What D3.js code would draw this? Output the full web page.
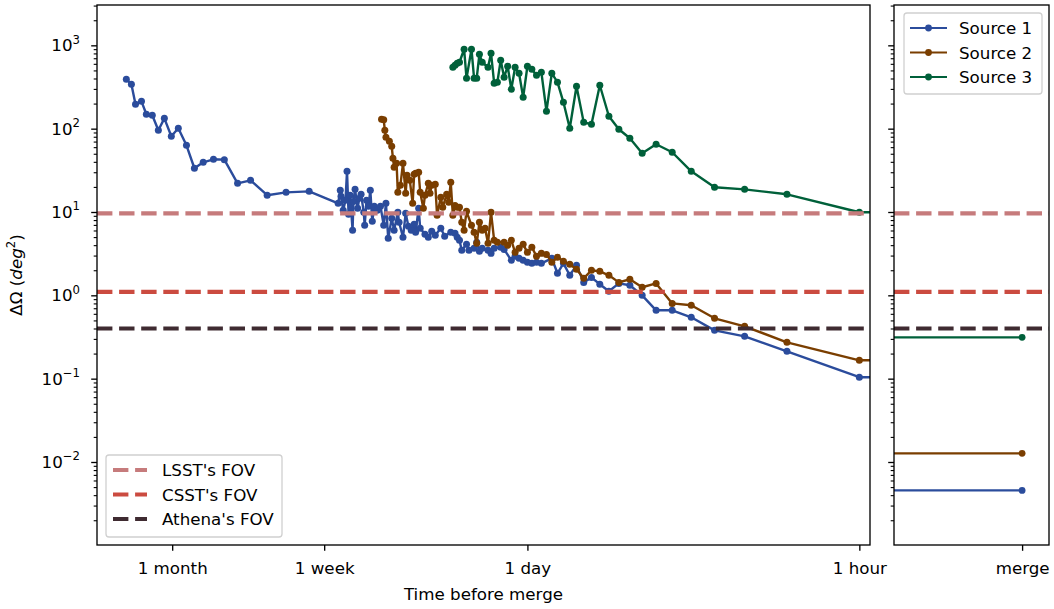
<!DOCTYPE html>
<html>
<head>
<meta charset="utf-8">
<script src="https://cdn.jsdelivr.net/npm/d3@7"></script>
<style>
  body { margin: 0; background: #fff; }
  svg { display: block; }
  text { font-family: "DejaVu Sans", sans-serif; fill: #000; }
</style>
</head>
<body>
<div id="chart"></div>
<script>
// [hours before merge, sky localisation in deg^2]
const source1 = [
  [1117, 392], [1064, 341], [1023, 196], [966, 213], [922, 149], [871, 145], [822, 95.7], [776, 133],
  [726, 81.1], [679, 101], [628, 63.2], [582, 33.5], [535, 39.5], [485, 42.9], [437, 42.5], [385, 22.1],
  [340, 24.0], [290, 15.9], [242, 17.2], [194, 17.7],
  [147, 12.7], [144, 18.2], [143, 15.4], [140, 10.5], [137, 13.8], [135, 30.8], [133, 9.38], [131, 15.9],
  [128, 6.03], [127, 13.4], [125, 18.7], [122, 11.1], [120, 14.6], [118, 16.3], [115, 9.92], [114, 6.92],
  [112, 13.8], [110, 11.7], [108, 18.2], [106, 7.73], [104, 11.7], [101, 10.5], [98, 11.7], [95, 6.92],
  [93, 12.7], [91, 4.83], [88, 8.40], [86, 6.03], [83, 9.92], [82, 7.52], [79, 4.97], [77, 9.64],
  [75, 6.74], [73, 6.03], [71, 7.12], [70, 5.71], [68, 11.1], [67, 6.37], [64, 5.40], [62, 4.97],
  [60, 5.87], [58, 5.25], [55, 6.37], [53, 5.11], [50, 5.71], [48, 5.55], [47, 4.97], [46, 4.57],
  [45, 3.47], [43, 4.09], [42, 3.47], [40, 3.67], [39, 4.33], [38, 3.38], [37, 3.67], [35, 3.47],
  [34, 3.19], [33, 3.67], [31, 3.77], [30, 3.56], [28, 2.63], [27, 2.94], [26, 2.78], [25, 2.63],
  [24, 2.49], [23, 2.42], [22, 2.49], [21, 2.42], [19, 2.78], [18, 1.84], [17, 2.42], [16, 1.74],
  [15, 2.29], [14, 1.43], [13, 1.64], [12, 1.36], [11, 1.12], [10, 1.39], [9, 1.32], [8, 1.00],
  [7, 0.661], [6, 0.661], [5, 0.545], [4, 0.380], [3, 0.322], [2, 0.213], [1, 0.104], [0.5, 0.104]
];

const source2 = [
  [97, 130], [95, 128], [94, 95.7], [93, 78.9], [90, 70.6], [88, 61.5], [87, 44.2], [86, 34.4],
  [84, 38.4], [83, 17.2], [81, 20.9], [79, 38.4], [77, 16.8], [76, 27.6], [74, 24.0], [72, 12.7],
  [71, 28.4], [70, 29.2], [68, 30.0], [67, 17.2], [65, 11.1], [64, 15.9], [62, 22.1], [61, 16.8],
  [60, 20.9], [58, 21.5], [57, 9.12], [55, 15.0], [54, 11.4], [52, 16.3], [51, 13.1], [50, 22.7],
  [49, 9.12], [48, 12.0], [47, 11.4], [46, 11.4], [45, 7.52], [44, 6.03], [43, 10.2], [41, 6.92],
  [40, 5.71], [39, 4.21], [38, 7.52], [37, 6.03], [36, 6.37], [35, 4.21], [34, 9.92], [33, 4.57],
  [32, 4.33], [30, 4.33], [29, 3.98], [28, 4.57], [27, 3.28], [26, 3.67], [25, 4.09], [24, 3.28],
  [23, 3.77], [22, 2.94], [21, 3.19], [20, 3.10], [19, 2.49], [18, 2.86], [17, 2.56], [16, 2.36],
  [15, 2.05], [14, 1.60], [13, 2.00], [12, 1.94], [11, 1.74], [10, 1.43], [9, 1.56], [8, 1.25],
  [7, 1.39], [6, 0.80], [5, 0.759], [4, 0.530], [3, 0.425], [2, 0.273], [1, 0.166], [0.5, 0.166]
];

const source3 = [
  [49, 546], [48, 577], [47, 610], [46, 627], [44, 898], [43, 403], [41, 898], [40, 403],
  [39, 403], [38, 782], [37, 627], [35, 546], [34, 804], [33, 351], [32, 361], [31, 662],
  [30, 414], [29, 561], [28, 297], [27, 546], [26, 462], [25, 238], [24, 561], [23, 517],
  [22, 438], [21, 475], [20, 162], [19, 462], [18, 361], [17, 207], [16, 101], [15, 323],
  [14, 119], [13, 113], [12, 332], [11, 141], [10, 98.4], [9, 76.7], [8, 50.7], [7, 65.0],
  [6, 52.1], [5, 30.8], [4, 19.8], [3, 18.7], [2, 16.3], [1, 9.92], [0.5, 9.92]
];

// value at merge for each source (right panel)
const mergeValues = [0.00456, 0.0127, 0.313];
const sourceNames = ["Source 1", "Source 2", "Source 3"];

// telescope fields of view
const fovNames = ["LSST's FOV", "CSST's FOV", "Athena's FOV"];
const fovValues = [9.6, 1.1, 0.4];

const xTickHours = [720, 168, 24, 1];
const xTickLabels = ["1 month", "1 week", "1 day", "1 hour"];
const yTickExps = [-2, -1, 0, 1, 2, 3];

// styles
const srcColors = ["#2b4c9c", "#7a3e00", "#00603a"];
const fovColors = ["#c67b7c", "#cb4b40", "#3f2b31"];
const fs = 16.7;
const dash = "15.4,6.7";

const W = 1054, H = 609;
const main = { left: 97, right: 870, top: 5, bottom: 545 };
const side = { left: 894, right: 1049 };

const svg = d3.select("#chart").append("svg").attr("width", W).attr("height", H);

// scales
const x = d3.scaleLog().domain([1479, 0.903]).range([main.left, main.right]);
const y = d3.scaleLog().domain([1.009e-3, 3048]).range([main.bottom, main.top]);
const xm = d3.scaleLinear().domain([-1, 0.21]).range([side.left, side.right]);

// clip paths for both panels
const defs = svg.append("defs");
defs.append("clipPath").attr("id", "clipMain").append("rect")
  .attr("x", main.left).attr("y", main.top)
  .attr("width", main.right - main.left).attr("height", main.bottom - main.top);
defs.append("clipPath").attr("id", "clipSide").append("rect")
  .attr("x", side.left).attr("y", main.top)
  .attr("width", side.right - side.left).attr("height", main.bottom - main.top);

// minor ticks for log y
const minorY = [];
for (let e = -3; e <= 3; e++) {
  for (let k = 2; k <= 9; k++) {
    const v = k * Math.pow(10, e);
    if (v > y.domain()[0] && v < y.domain()[1]) minorY.push(v);
  }
}
const majorY = yTickExps.map(e => Math.pow(10, e));

function yTicks(x0) {
  const g = svg.append("g").attr("transform", `translate(${x0},0)`);
  g.call(d3.axisLeft(y).tickValues(minorY).tickFormat("").tickSize(3.3))
    .call(a => a.select(".domain").remove())
    .call(a => a.selectAll("line").attr("stroke-width", 1.1));
  const g2 = svg.append("g").attr("transform", `translate(${x0},0)`);
  g2.call(d3.axisLeft(y).tickValues(majorY).tickFormat("").tickSize(5.8))
    .call(a => a.select(".domain").remove())
    .call(a => a.selectAll("line").attr("stroke-width", 1.33));
}
yTicks(main.left);
yTicks(side.left);

// y tick labels with superscripts
yTickExps.forEach(e => {
  const t = svg.append("text")
    .attr("x", 80).attr("y", y(Math.pow(10, e)) + 6)
    .attr("text-anchor", "end").style("font-size", fs + "px");
  t.append("tspan").text("10");
  t.append("tspan").attr("dy", -7.5).style("font-size", "11.7px")
    .text(e < 0 ? "\u2212" + (-e) : String(e));
});

// x axis of main panel
svg.append("g")
  .attr("transform", `translate(0,${main.bottom})`)
  .call(d3.axisBottom(x).tickValues(xTickHours).tickFormat((d, i) => xTickLabels[i])
    .tickSize(5.8).tickPadding(11))
  .call(a => a.select(".domain").remove())
  .call(a => a.selectAll("line").attr("stroke-width", 1.33))
  .call(a => a.selectAll("text").style("font-size", fs + "px")
    .style("font-family", "'DejaVu Sans', sans-serif"));

// x axis of side panel
svg.append("g")
  .attr("transform", `translate(0,${main.bottom})`)
  .call(d3.axisBottom(xm).tickValues([0]).tickFormat(() => "merge").tickSize(5.8).tickPadding(11))
  .call(a => a.select(".domain").remove())
  .call(a => a.selectAll("line").attr("stroke-width", 1.33))
  .call(a => a.selectAll("text").style("font-size", fs + "px")
    .style("font-family", "'DejaVu Sans', sans-serif"));

// axis titles
svg.append("text")
  .attr("x", (main.left + main.right) / 2).attr("y", 600)
  .attr("text-anchor", "middle").style("font-size", fs + "px")
  .text("Time before merge");

const yl = svg.append("text")
  .attr("transform", "translate(22,275) rotate(-90)")
  .attr("text-anchor", "middle").style("font-size", fs + "px");
yl.append("tspan").text("\u0394\u03a9 (");
yl.append("tspan").style("font-style", "italic").text("deg");
yl.append("tspan").attr("dy", -7).style("font-size", "11.7px").text("2");
yl.append("tspan").attr("dy", 7).text(")");

// data lines in main panel
const line = d3.line().x(d => x(d[0])).y(d => y(d[1]));
const plot = svg.append("g").attr("clip-path", "url(#clipMain)");
[source1, source2, source3].forEach((data, i) => {
  plot.append("path").datum(data)
    .attr("d", line)
    .attr("fill", "none")
    .attr("stroke", srcColors[i])
    .attr("stroke-width", 2.4)
    .attr("stroke-linejoin", "round");
  plot.append("g").selectAll("circle")
    .data(data)
    .enter()
    .append("circle")
    .attr("cx", d => x(d[0]))
    .attr("cy", d => y(d[1]))
    .attr("r", 3.5)
    .attr("fill", srcColors[i]);
});

// fov lines over the data
fovValues.forEach((v, i) => {
  plot.append("line")
    .attr("x1", main.left).attr("x2", main.right)
    .attr("y1", y(v)).attr("y2", y(v))
    .attr("stroke", fovColors[i]).attr("stroke-width", 4.2)
    .attr("stroke-dasharray", dash);
});

// side panel: value at merge
const sidePlot = svg.append("g").attr("clip-path", "url(#clipSide)");
mergeValues.forEach((v, i) => {
  sidePlot.append("line")
    .attr("x1", xm(-2)).attr("x2", xm(0))
    .attr("y1", y(v)).attr("y2", y(v))
    .attr("stroke", srcColors[i]).attr("stroke-width", 2.1);
  sidePlot.append("circle")
    .attr("cx", xm(0)).attr("cy", y(v)).attr("r", 3.4)
    .attr("fill", srcColors[i]);
});
fovValues.forEach((v, i) => {
  sidePlot.append("line")
    .attr("x1", side.left).attr("x2", side.right)
    .attr("y1", y(v)).attr("y2", y(v))
    .attr("stroke", fovColors[i]).attr("stroke-width", 4.2)
    .attr("stroke-dasharray", dash);
});

// frames
[[main.left, main.right], [side.left, side.right]].forEach(([a, b]) => {
  svg.append("rect")
    .attr("x", a).attr("y", main.top)
    .attr("width", b - a).attr("height", main.bottom - main.top)
    .attr("fill", "none").attr("stroke", "#000").attr("stroke-width", 1.33);
});

// legend of fields of view (lower left)
const lg1 = svg.append("g");
lg1.append("rect")
  .attr("x", 106).attr("y", 455).attr("width", 176).attr("height", 82).attr("rx", 3)
  .attr("fill", "#fff").attr("fill-opacity", 0.8)
  .attr("stroke", "#d0d0d0").attr("stroke-width", 1.3);
fovNames.forEach((name, i) => {
  const ly = 470 + i * 24.5;
  lg1.append("line")
    .attr("x1", 113).attr("x2", 147).attr("y1", ly).attr("y2", ly)
    .attr("stroke", fovColors[i]).attr("stroke-width", 4.2)
    .attr("stroke-dasharray", dash);
  lg1.append("text")
    .attr("x", 162).attr("y", ly + 6).style("font-size", fs + "px").text(name);
});

// legend of sources (upper right)
const lg2 = svg.append("g");
lg2.append("rect")
  .attr("x", 904).attr("y", 13).attr("width", 138).attr("height", 81).attr("rx", 3)
  .attr("fill", "#fff").attr("fill-opacity", 0.8)
  .attr("stroke", "#d0d0d0").attr("stroke-width", 1.3);
sourceNames.forEach((name, i) => {
  const ly = 28 + i * 24.5;
  lg2.append("line")
    .attr("x1", 910).attr("x2", 947).attr("y1", ly).attr("y2", ly)
    .attr("stroke", srcColors[i]).attr("stroke-width", 2.1);
  lg2.append("circle")
    .attr("cx", 928.5).attr("cy", ly).attr("r", 3.4).attr("fill", srcColors[i]);
  lg2.append("text")
    .attr("x", 959).attr("y", ly + 6).style("font-size", fs + "px").text(name);
});
</script>
</body>
</html>
